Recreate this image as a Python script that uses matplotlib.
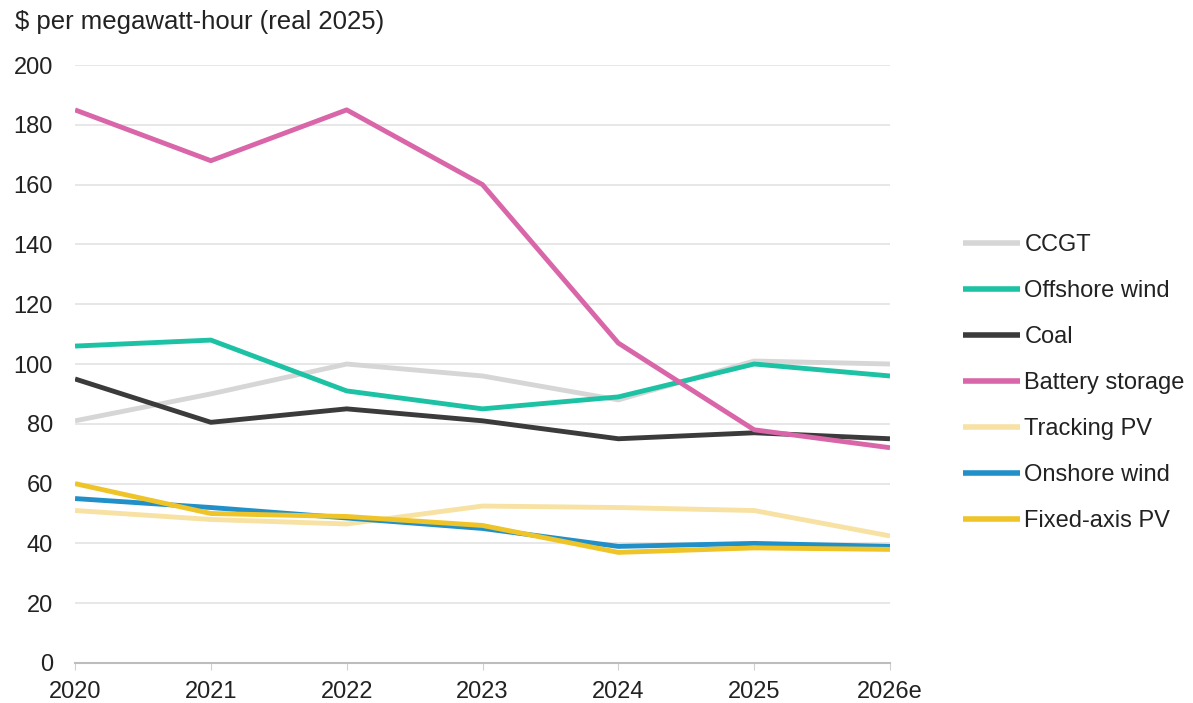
import matplotlib.pyplot as plt

plt.rcParams['font.family'] = ['Liberation Sans', 'DejaVu Sans']

years = ['2020', '2021', '2022', '2023', '2024', '2025', '2026e']

ccgt = [81, 90, 100, 96, 88, 101, 100]
offshore_wind = [106, 108, 91, 85, 89, 100, 96]
coal = [95, 80.5, 85, 81, 75, 77, 75]
battery_storage = [185, 168, 185, 160, 107, 78, 72]
tracking_pv = [51, 48, 46.5, 52.5, 52, 51, 42.5]
onshore_wind = [55, 52, 48.5, 45, 39, 40, 39]
fixed_axis_pv = [60, 50, 49, 46, 37, 38.5, 38]

series = [
    ('CCGT', ccgt, '#d6d6d6', 1),
    ('Offshore wind', offshore_wind, '#1dc2a4', 6),
    ('Coal', coal, '#3b3b3b', 5),
    ('Battery storage', battery_storage, '#d966a8', 7),
    ('Tracking PV', tracking_pv, '#f7e2a3', 2),
    ('Onshore wind', onshore_wind, '#2190c8', 3),
    ('Fixed-axis PV', fixed_axis_pv, '#eec428', 4),
]

fig = plt.figure(figsize=(11.93, 7.03), dpi=100)
ax = fig.add_axes([0.0629, 0.0569, 0.6831, 0.8506])

x = list(range(len(years)))
for name, vals, color, z in series:
    ax.plot(x, vals, color=color, lw=3.5, label=name, zorder=z + 2,
            solid_capstyle='butt')

ax.set_xlim(0, len(years) - 1)
ax.set_ylim(0, 200)
ax.set_yticks(range(0, 201, 20))
ax.set_xticks(x)
ax.set_xticklabels(years)
ax.grid(axis='y', color='#e3e3e3', lw=1.2, zorder=0)
ax.set_axisbelow(True)

for s in ['left', 'right', 'top']:
    ax.spines[s].set_visible(False)
ax.spines['bottom'].set_color('#bdbdbd')
ax.spines['bottom'].set_linewidth(1.5)
ax.tick_params(axis='y', length=0, pad=16, labelsize=17, labelcolor='#222222')
ax.tick_params(axis='x', length=5, color='#d0d0d0', pad=8, labelsize=17,
               labelcolor='#222222')

fig.text(0.0126, 0.968, '$ per megawatt-hour (real 2025)', fontsize=18.5,
         color='#222222', va='center', ha='left')

leg = ax.legend(loc='center left', bbox_to_anchor=(1.0896, 0.468), frameon=False,
                fontsize=17, handlelength=2.4, handletextpad=0.2,
                labelspacing=1.02, borderaxespad=0, borderpad=0)
for line in leg.get_lines():
    line.set_linewidth(4)
for t in leg.get_texts():
    t.set_color('#222222')

fig.savefig('out.png', dpi=100)
